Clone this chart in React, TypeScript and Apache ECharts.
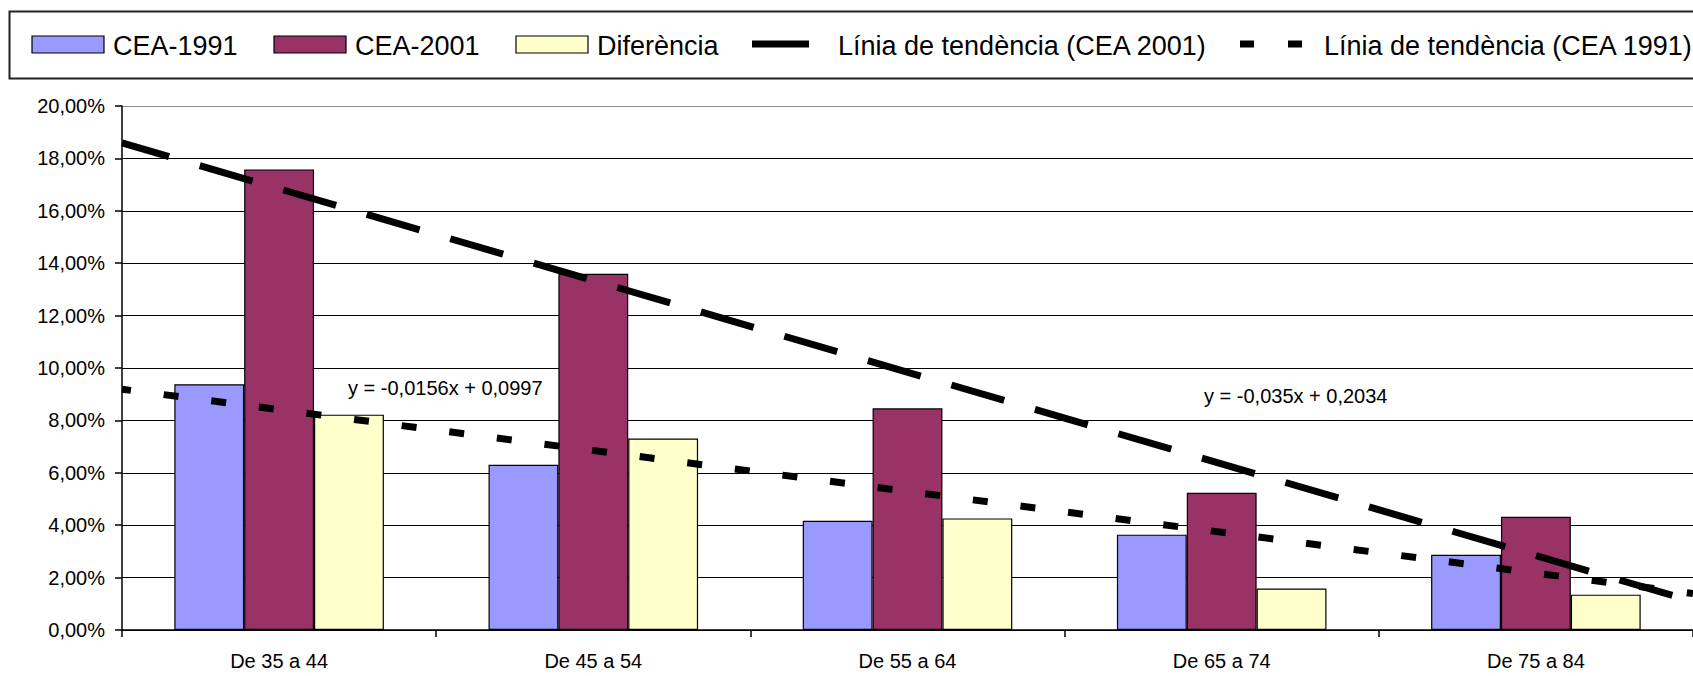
import React, { useEffect, useRef } from "react";
import * as echarts from "echarts";

const categories = ["De 35 a 44", "De 45 a 54", "De 55 a 64", "De 65 a 74", "De 75 a 84"];
const cea1991 = [9.38, 6.31, 4.17, 3.64, 2.87];
const cea2001 = [17.58, 13.6, 8.46, 5.24, 4.32];
const diferencia = [8.22, 7.31, 4.26, 1.58, 1.35];
const trendX = [0.5, 5.5];
const trend2001 = [18.59, 1.09];
const trend1991 = [9.19, 1.39];
const seriesNames = [
  "CEA-1991",
  "CEA-2001",
  "Diferència",
  "Línia de tendència (CEA 2001)",
  "Línia de tendència (CEA 1991)",
];
const equation1991 = "y = -0,0156x + 0,0997";
const equation2001 = "y = -0,035x + 0,2034";

const FONT = '"Liberation Sans", Arial, Helvetica, sans-serif';
const colors = ["#9999FF", "#993366", "#FFFFCC"];

export default function App() {
  const ref = useRef<HTMLDivElement>(null);
  useEffect(() => {
    if (!ref.current) return;
    const chart = echarts.init(ref.current, undefined, { renderer: "svg" });
    const legendFont = `27px ${FONT}`;
    const splitColors = Array.from({ length: 11 }, (_, i) => (i === 10 ? "#8c8c8c" : "#000000"));
    chart.setOption({
      animation: false,
      backgroundColor: "#ffffff",
      textStyle: { fontFamily: FONT, color: "#000" },
      grid: { left: 122, top: 106, width: 1571, height: 524, containLabel: false, outerBoundsMode: "none" },
      xAxis: [
        {
          type: "category",
          data: categories,
          boundaryGap: true,
          axisLine: { show: true, lineStyle: { color: "#000", width: 1.5 } },
          axisTick: { show: true, length: 7, lineStyle: { color: "#000", width: 1.5 } },
          axisLabel: { fontSize: 20, color: "#000", margin: 21, fontFamily: FONT },
          splitLine: { show: false },
        },
        { type: "value", min: 0.5, max: 5.5, show: false },
      ],
      yAxis: {
        type: "value",
        min: 0,
        max: 20,
        interval: 2,
        axisLine: { show: true, lineStyle: { color: "#000", width: 1.5 } },
        axisTick: { show: true, length: 7, lineStyle: { color: "#000", width: 1.5 } },
        axisLabel: {
          fontSize: 20,
          color: "#000",
          margin: 17,
          fontFamily: FONT,
          formatter: (v: number) => v.toFixed(2).replace(".", ",") + "%",
        },
        splitLine: { show: true, lineStyle: { color: splitColors, width: 1.2 } },
      },
      series: [
        {
          name: seriesNames[0],
          type: "bar",
          data: cea1991,
          barGap: "0%",
          barCategoryGap: "33.3%",
          itemStyle: { color: colors[0], borderColor: "#000", borderWidth: 1.2 },
        },
        {
          name: seriesNames[1],
          type: "bar",
          data: cea2001,
          barGap: "0%",
          barCategoryGap: "33.3%",
          itemStyle: { color: colors[1], borderColor: "#000", borderWidth: 1.2 },
        },
        {
          name: seriesNames[2],
          type: "bar",
          data: diferencia,
          barGap: "0%",
          barCategoryGap: "33.3%",
          itemStyle: { color: colors[2], borderColor: "#000", borderWidth: 1.2 },
        },
        {
          name: seriesNames[4],
          type: "line",
          xAxisIndex: 1,
          data: trendX.map((x, i) => [x, trend1991[i]]),
          symbol: "none",
          clip: true,
          z: 5,
          lineStyle: { color: "#000", width: 7, type: [15, 33], dashOffset: 6, cap: "butt" },
        },
        {
          name: seriesNames[3],
          type: "line",
          xAxisIndex: 1,
          data: trendX.map((x, i) => [x, trend2001[i]]),
          symbol: "none",
          clip: true,
          z: 6,
          lineStyle: { color: "#000", width: 7, type: [55, 32], dashOffset: 6, cap: "butt" },
        },
      ],
      graphic: [
        {
          type: "rect",
          shape: { x: 9.5, y: 11.5, width: 1700, height: 67 },
          style: { fill: "#fff", stroke: "#222", lineWidth: 2 },
          z: 0,
        },
        { type: "rect", shape: { x: 32, y: 36, width: 72, height: 17 }, style: { fill: colors[0], stroke: "#000", lineWidth: 1.2 }, z: 2 },
        { type: "text", x: 113, y: 46, style: { text: seriesNames[0], font: legendFont, fill: "#000", align: "left", verticalAlign: "middle" }, z: 2 },
        { type: "rect", shape: { x: 274, y: 36, width: 72, height: 17 }, style: { fill: colors[1], stroke: "#000", lineWidth: 1.2 }, z: 2 },
        { type: "text", x: 355, y: 46, style: { text: seriesNames[1], font: legendFont, fill: "#000", align: "left", verticalAlign: "middle" }, z: 2 },
        { type: "rect", shape: { x: 516, y: 36, width: 72, height: 17 }, style: { fill: colors[2], stroke: "#000", lineWidth: 1.2 }, z: 2 },
        { type: "text", x: 597, y: 46, style: { text: seriesNames[2], font: legendFont, fill: "#000", align: "left", verticalAlign: "middle" }, z: 2 },
        { type: "line", shape: { x1: 752, y1: 44, x2: 809, y2: 44 }, style: { stroke: "#000", lineWidth: 7 }, z: 2 },
        { type: "text", x: 838, y: 46, style: { text: seriesNames[3], font: legendFont, fill: "#000", align: "left", verticalAlign: "middle" }, z: 2 },
        { type: "line", shape: { x1: 1240, y1: 44, x2: 1254, y2: 44 }, style: { stroke: "#000", lineWidth: 7 }, z: 2 },
        { type: "line", shape: { x1: 1288, y1: 44, x2: 1302, y2: 44 }, style: { stroke: "#000", lineWidth: 7 }, z: 2 },
        { type: "text", x: 1324, y: 46, style: { text: seriesNames[4], font: legendFont, fill: "#000", align: "left", verticalAlign: "middle" }, z: 2 },
        { type: "text", x: 348, y: 388, style: { text: equation1991, font: `20px ${FONT}`, fill: "#000", align: "left", verticalAlign: "middle" }, z: 10 },
        { type: "text", x: 1204, y: 396, style: { text: equation2001, font: `20px ${FONT}`, fill: "#000", align: "left", verticalAlign: "middle" }, z: 10 },
      ],
    });
    return () => chart.dispose();
  }, []);
  return <div ref={ref} style={{ position: "fixed", left: 0, top: 0, width: 1693, height: 676, background: "#fff" }} />;
}
